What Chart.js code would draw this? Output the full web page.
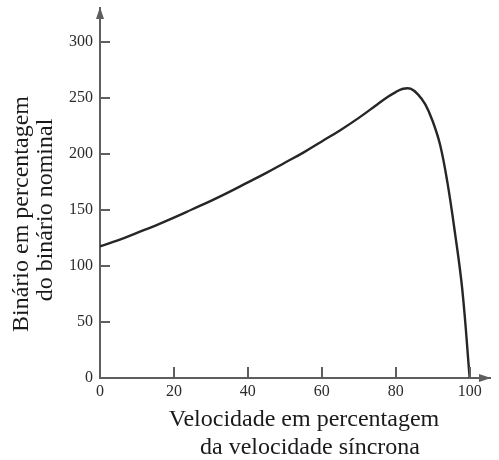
<!DOCTYPE html>
<html>
<head>
<meta charset="utf-8">
<script src="https://cdn.jsdelivr.net/npm/chart.js@4.4.0/dist/chart.umd.min.js"></script>
<style>
  html, body { margin: 0; padding: 0; background: #fff; }
  #wrap { width: 499px; height: 460px; position: relative; }
</style>
</head>
<body>
<div id="wrap"><canvas id="torqueChart"></canvas></div>
<script>
// velocidade (% da síncrona) e binário (% do nominal)
var speedPct = [0, 5, 10, 15, 20, 25, 30, 35, 40, 45, 50, 55, 60, 65, 70, 75, 78, 80, 82, 84, 86, 88, 90, 92, 94, 96, 98, 100];
var torquePct = [117.5, 123, 129.5, 136, 143, 150.5, 158, 166, 174.5, 183, 192, 201, 211, 221, 232, 244, 251, 255, 258, 258, 253, 244, 229, 208, 174, 130, 79, 0];

var xTicks = [0, 20, 40, 60, 80, 100];
var yTicks = [0, 50, 100, 150, 200, 250, 300];

var xTitle = ['Velocidade em percentagem', 'da velocidade síncrona'];
var yTitle = ['Binário em percentagem', 'do binário nominal'];

var AXIS_COLOR = '#5e5e5e';
var TEXT_COLOR = '#2b2b2b';
var FONT = '"Liberation Serif", "DejaVu Serif", serif';

var axesPlugin = {
  id: 'axesDecor',
  afterDraw: function (chart) {
    var ctx = chart.ctx;
    var area = chart.chartArea;
    var xs = chart.scales.x, ys = chart.scales.y;
    ctx.save();
    ctx.strokeStyle = AXIS_COLOR;
    ctx.fillStyle = AXIS_COLOR;
    ctx.lineWidth = 2;

    // inward tick marks
    ctx.beginPath();
    yTicks.forEach(function (v) {
      if (v === 0) return;
      var py = Math.round(ys.getPixelForValue(v));
      ctx.moveTo(area.left, py);
      ctx.lineTo(area.left + 10, py);
    });
    xTicks.forEach(function (v) {
      var px = Math.round(xs.getPixelForValue(v));
      ctx.moveTo(px, area.bottom);
      ctx.lineTo(px, area.bottom - 11);
    });
    ctx.stroke();

    // arrow heads
    ctx.beginPath();
    ctx.moveTo(area.left, area.top - 1);
    ctx.lineTo(area.left - 4, area.top + 11);
    ctx.lineTo(area.left + 4, area.top + 11);
    ctx.closePath();
    ctx.fill();
    ctx.beginPath();
    ctx.moveTo(area.right + 1, area.bottom);
    ctx.lineTo(area.right - 11, area.bottom - 4);
    ctx.lineTo(area.right - 11, area.bottom + 4);
    ctx.closePath();
    ctx.fill();

    // axis titles
    ctx.fillStyle = '#1a1a1a';
    ctx.font = '24px ' + FONT;
    ctx.textAlign = 'center';
    ctx.textBaseline = 'middle';
    ctx.fillText(xTitle[0], 304, 420);
    ctx.fillText(xTitle[1], 310, 448);

    ctx.translate(22, 214);
    ctx.rotate(-Math.PI / 2);
    ctx.fillText(yTitle[0], 0, 0);
    ctx.fillText(yTitle[1], 4, 24);
    ctx.restore();
  }
};

var points = speedPct.map(function (s, i) { return { x: s, y: torquePct[i] }; });

new Chart(document.getElementById('torqueChart'), {
  type: 'line',
  data: {
    datasets: [{
      data: points,
      borderColor: '#262626',
      borderWidth: 2.4,
      pointRadius: 0,
      fill: false,
      tension: 0.4
    }]
  },
  options: {
    responsive: true,
    maintainAspectRatio: false,
    animation: false,
    layout: { padding: { top: 8, right: 9, left: 0, bottom: 0 } },
    plugins: { legend: { display: false }, tooltip: { enabled: false } },
    scales: {
      x: {
        type: 'linear',
        min: 0,
        max: 105.5,
        afterBuildTicks: function (scale) {
          scale.ticks = xTicks.map(function (v) { return { value: v }; });
        },
        afterFit: function (scale) {
          scale.height = 82;
          scale.paddingLeft = 0;
          scale.paddingRight = 0;
        },
        grid: { display: false, drawTicks: false },
        border: { display: true, color: AXIS_COLOR, width: 2 },
        ticks: {
          padding: 4,
          color: TEXT_COLOR,
          maxRotation: 0,
          autoSkip: false,
          font: { family: FONT, size: 16 }
        }
      },
      y: {
        min: 0,
        max: 330,
        afterBuildTicks: function (scale) {
          scale.ticks = yTicks.map(function (v) { return { value: v }; });
        },
        afterFit: function (scale) {
          scale.width = 100;
          scale.paddingTop = 0;
          scale.paddingBottom = 0;
        },
        grid: { display: false, drawTicks: false },
        border: { display: true, color: AXIS_COLOR, width: 2 },
        ticks: {
          padding: 7,
          color: TEXT_COLOR,
          autoSkip: false,
          font: { family: FONT, size: 16 }
        }
      }
    }
  },
  plugins: [axesPlugin]
});
</script>
</body>
</html>
